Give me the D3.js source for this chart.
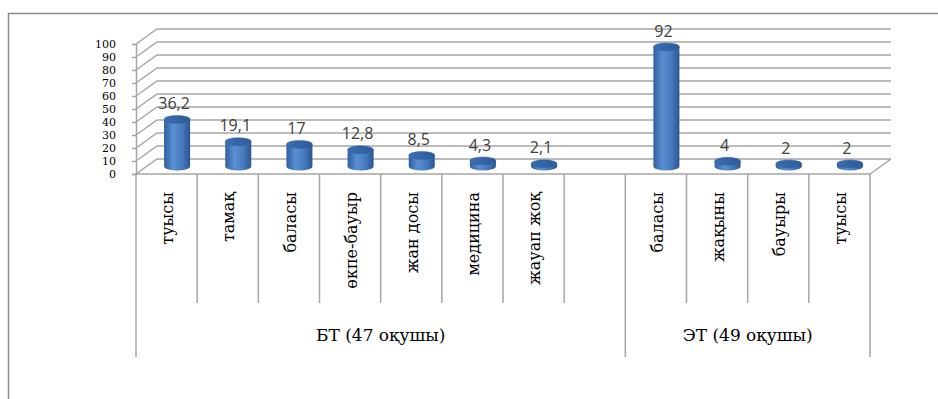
<!DOCTYPE html>
<html>
<head>
<meta charset="utf-8">
<script src="https://cdn.jsdelivr.net/npm/d3@7"></script>
<style>
  body { margin: 0; background: #fff; }
  svg { display: block; }
</style>
</head>
<body>
<div class="chart"></div>
<script>
// categories (empty slot separates the two groups)
const categories = ["туысы", "тамақ", "баласы", "өкпе-бауыр", "жан досы", "медицина", "жауап жоқ", "", "баласы", "жақыны", "бауыры", "туысы"];
const values = [36.2, 19.1, 17, 12.8, 8.5, 4.3, 2.1, null, 92, 4, 2, 2];
const groupNames = ["БТ (47 оқушы)", "ЭТ (49 оқушы)"];
const groupStart = [0, 8];
const groupEnd = [8, 12];
const yTicks = [0, 10, 20, 30, 40, 50, 60, 70, 80, 90, 100];

const serif = "DejaVu Serif";

const width = 938;
const height = 399;
const margin = {top: 44, right: 68, bottom: 225, left: 136};
const depth = {dx: 21, dy: -15};   // 3d offset of the back wall

const svg = d3.select(".chart")
    .append("svg")
    .attr("width", width)
    .attr("height", height);

// outer frame (only top and left visible)
svg.append("path")
    .attr("d", `M8.5,${height} V13.5 H${width}`)
    .attr("fill", "none")
    .attr("stroke", "#8c8c8c")
    .attr("stroke-width", 1.5);

const x = d3.scaleBand()
    .domain(d3.range(categories.length))
    .range([margin.left, width - margin.right])
    .padding(0);

const y = d3.scaleLinear()
    .domain([0, 100])
    .range([height - margin.bottom, margin.top]);

const x0 = x.range()[0], x1 = x.range()[1];
const gridColor = "#a6a6a6";

// gridlines: side wall diagonal + back wall line
svg.append("g")
    .selectAll("path")
    .data(yTicks)
    .enter()
    .append("path")
    .attr("d", d => `M${x0},${y(d)} L${x0 + depth.dx},${y(d) + depth.dy} H${x1 + depth.dx}`)
    .attr("fill", "none")
    .attr("stroke", gridColor)
    .attr("stroke-width", 1.5);

// floor front edge + right diagonal
svg.append("path")
    .attr("d", `M${x0},${y(0)} H${x1} L${x1 + depth.dx},${y(0) + depth.dy}`)
    .attr("fill", "none")
    .attr("stroke", gridColor)
    .attr("stroke-width", 1.5);

// y axis
const yAxis = svg.append("g")
    .attr("transform", `translate(${x0}, 0)`)
    .call(d3.axisLeft(y).tickValues(yTicks).tickSize(4).tickPadding(16));
yAxis.select(".domain").attr("stroke", gridColor).attr("stroke-width", 1.5);
yAxis.selectAll(".tick line").attr("stroke", gridColor).attr("stroke-width", 1.5);
yAxis.selectAll("text")
    .attr("font-family", serif)
    .attr("font-size", 11)
    .attr("fill", "#000");

// category separators below the floor
const sepTop = y(0);
const sepShort = 303;
const sepLong = 357;
const boundaries = d3.range(categories.length + 1);
svg.append("g")
    .selectAll("line")
    .data(boundaries)
    .enter()
    .append("line")
    .attr("x1", i => i < categories.length ? x(i) : x1)
    .attr("x2", i => i < categories.length ? x(i) : x1)
    .attr("y1", sepTop)
    .attr("y2", i => (groupStart.includes(i) || i === categories.length) ? sepLong : sepShort)
    .attr("stroke", gridColor)
    .attr("stroke-width", 1.5);

// category labels (rotated)
svg.append("g")
    .selectAll("text")
    .data(categories)
    .enter()
    .append("text")
    .attr("transform", (d, i) => `translate(${x(i) + x.bandwidth() / 2 + 1}, 192) rotate(-90)`)
    .attr("text-anchor", "end")
    .attr("dy", "0.35em")
    .attr("font-family", serif)
    .attr("font-size", 16)
    .text(d => d);

// group labels
svg.append("g")
    .selectAll("text")
    .data(groupNames)
    .enter()
    .append("text")
    .attr("x", (d, i) => (x(groupStart[i]) + (groupEnd[i] < categories.length ? x(groupEnd[i]) : x1)) / 2)
    .attr("y", 335)
    .attr("dy", "0.35em")
    .attr("text-anchor", "middle")
    .attr("font-family", serif)
    .attr("font-size", 17)
    .text(d => d);

// cylinder gradients
const defs = svg.append("defs");
const bodyGrad = defs.append("linearGradient").attr("id", "body").attr("x1", 0).attr("x2", 1).attr("y1", 0).attr("y2", 0);
bodyGrad.append("stop").attr("offset", "0%").attr("stop-color", "#2f5f9e");
bodyGrad.append("stop").attr("offset", "35%").attr("stop-color", "#5a8fd2");
bodyGrad.append("stop").attr("offset", "70%").attr("stop-color", "#4679bd");
bodyGrad.append("stop").attr("offset", "100%").attr("stop-color", "#2b5590");
const topGrad = defs.append("linearGradient").attr("id", "top").attr("x1", 0).attr("x2", 1).attr("y1", 0).attr("y2", 0);
topGrad.append("stop").attr("offset", "0%").attr("stop-color", "#3c6eb0");
topGrad.append("stop").attr("offset", "100%").attr("stop-color", "#2e5a98");

const barW = 26;
const ry = 4;
const bars = values.map((v, i) => ({v, i})).filter(d => d.v !== null);
const cx = d => x(d.i) + x.bandwidth() / 2 + depth.dx / 2;
const baseY = y(0) + depth.dy / 2;
const topY = d => y(d.v) + depth.dy / 2;

const bar = svg.append("g")
    .selectAll("g")
    .data(bars)
    .enter()
    .append("g");

// body with rounded bottom
bar.append("path")
    .attr("d", d => {
        const l = cx(d) - barW / 2, r = cx(d) + barW / 2;
        return `M${l},${topY(d)} V${baseY} A${barW / 2},${ry} 0 0 0 ${r},${baseY} V${topY(d)} Z`;
    })
    .attr("fill", "url(#body)");

// top cap
bar.append("ellipse")
    .attr("cx", cx)
    .attr("cy", topY)
    .attr("rx", barW / 2)
    .attr("ry", ry)
    .attr("fill", "url(#top)")
    .attr("stroke", "#3566a8")
    .attr("stroke-width", 0.5);

// value labels
svg.append("g")
    .selectAll("text")
    .data(bars)
    .enter()
    .append("text")
    .attr("x", d => cx(d) - 3)
    .attr("y", d => topY(d) - 16)
    .attr("dy", "0.35em")
    .attr("text-anchor", "middle")
    .attr("font-family", "Open Sans")
    .attr("font-size", 16)
    .attr("fill", "#404040")
    .text(d => String(d.v).replace(".", ","));
</script>
</body>
</html>
